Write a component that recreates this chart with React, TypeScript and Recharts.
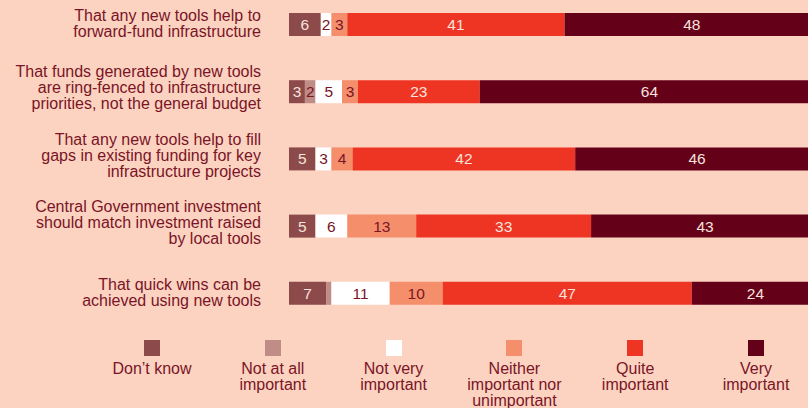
import React from "react";
import { BarChart, Bar, XAxis, YAxis, LabelList } from "recharts";

const categories = [
  ["That any new tools help to", "forward-fund infrastructure"],
  ["That funds generated by new tools", "are ring-fenced to infrastructure", "priorities, not the general budget"],
  ["That any new tools help to fill", "gaps in existing funding for key", "infrastructure projects"],
  ["Central Government investment", "should match investment raised", "by local tools"],
  ["That quick wins can be", "achieved using new tools"],
];
const dontKnow = [6, 3, 5, 5, 7];
const notAtAll = [0, 2, 0, 0, 1];
const notVery = [2, 5, 3, 6, 11];
const neither = [3, 3, 4, 13, 10];
const quite = [41, 23, 42, 33, 47];
const very = [48, 64, 46, 43, 24];

const BG = "#FCD3C1";
const TEXT = "#7A1426";
const LIGHT = "#F7E3DC";

const series = [
  { key: "dontKnow", name: "Don\u2019t know", lines: ["Don\u2019t know"], color: "#8C4A4A", label: LIGHT },
  { key: "notAtAll", name: "Not at all important", lines: ["Not at all", "important"], color: "#C08C86", label: TEXT },
  { key: "notVery", name: "Not very important", lines: ["Not very", "important"], color: "#FFFFFF", label: TEXT },
  { key: "neither", name: "Neither important nor unimportant", lines: ["Neither", "important nor", "unimportant"], color: "#F58E6B", label: TEXT },
  { key: "quite", name: "Quite important", lines: ["Quite", "important"], color: "#EE3524", label: LIGHT },
  { key: "very", name: "Very important", lines: ["Very", "important"], color: "#650019", label: LIGHT },
];

const data = categories.map((c, i) => ({
  name: String(i),
  dontKnow: dontKnow[i],
  notAtAll: notAtAll[i],
  notVery: notVery[i],
  neither: neither[i],
  quite: quite[i],
  very: very[i],
}));

const CategoryTick = ({ x, y, payload }: any) => {
  const lines = categories[Number(payload.value)] || [];
  const lh = 16;
  const start = y - ((lines.length - 1) * lh) / 2 - (lines.length > 2 ? 4 : 1.5);
  return (
    <text x={x - 20} y={start} textAnchor="end" fill={TEXT} fontSize={16} fontFamily="Liberation Sans, Arial, sans-serif">
      {lines.map((l: string, i: number) => (
        <tspan key={i} x={x - 20} y={start + i * lh} dy="0.35em">
          {l}
        </tspan>
      ))}
    </text>
  );
};

const makeLabel = (color: string) => (props: any) => {
  const { x, y, width, height, value } = props;
  if (!value || value < 2) return null;
  return (
    <text
      x={x + width / 2}
      y={y + height / 2}
      dy="0.36em"
      textAnchor="middle"
      fill={color}
      fontSize={15.5}
      fontFamily="Liberation Sans, Arial, sans-serif"
    >
      {value}
    </text>
  );
};

export default function App() {
  return (
    <div
      style={{
        position: "absolute",
        left: 0,
        top: 0,
        width: 808,
        height: 408,
        overflow: "hidden",
        background: BG,
        fontFamily: "Liberation Sans, Arial, sans-serif",
      }}
    >
      <BarChart
        width={819}
        height={327}
        data={data}
        layout="vertical"
        margin={{ top: -9, right: 0, bottom: 0, left: 0 }}
        barSize={23}
      >
        <XAxis type="number" domain={[0, 100]} hide />
        <YAxis
          type="category"
          dataKey="name"
          width={289}
          axisLine={false}
          tickLine={false}
          tick={<CategoryTick />}
          interval={0}
        />
        {series.map((s) => (
          <Bar key={s.key} dataKey={s.key} name={s.name} stackId="a" fill={s.color} isAnimationActive={false}>
            <LabelList dataKey={s.key} content={makeLabel(s.label)} />
          </Bar>
        ))}
      </BarChart>
      {/* legend */}
      {series.map((s, i) => (
        <div
          key={s.key}
          style={{
            position: "absolute",
            left: 152 + i * 120.8 - 70,
            top: 340,
            width: 140,
            textAlign: "center",
            color: TEXT,
            fontSize: 16,
            lineHeight: "16px",
          }}
        >
          <div style={{ width: 16, height: 16, background: s.color, margin: "0 auto 5px" }} />
          {s.lines.map((l, j) => (
            <div key={j}>{l}</div>
          ))}
        </div>
      ))}
    </div>
  );
}
